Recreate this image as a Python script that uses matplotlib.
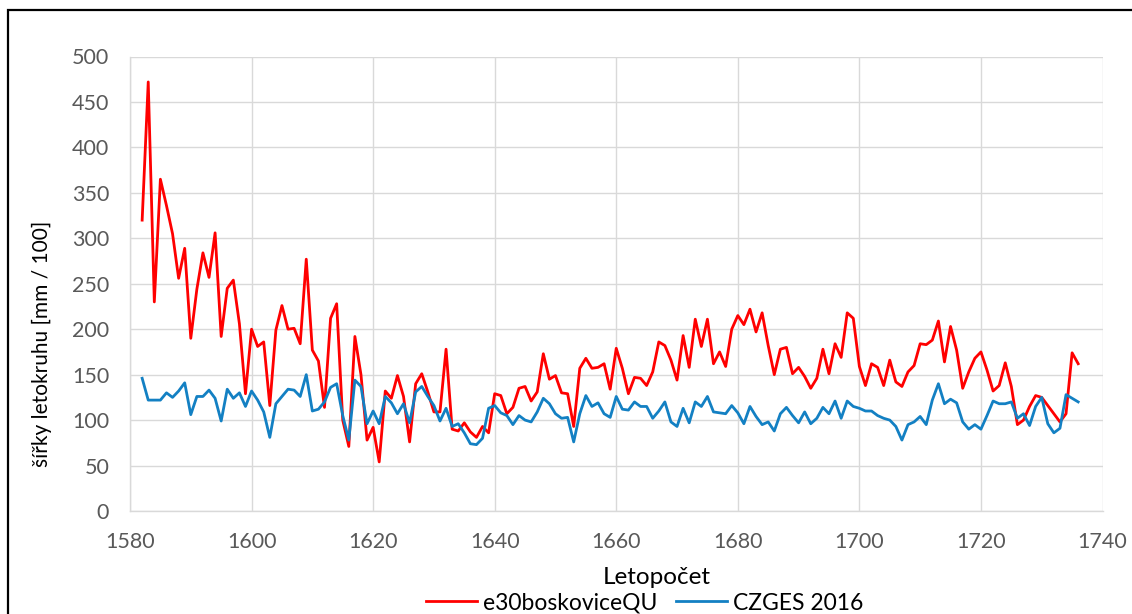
import matplotlib
matplotlib.use("Agg")
import matplotlib.pyplot as plt
from matplotlib.lines import Line2D
from matplotlib.patches import Rectangle

plt.rcParams['font.family'] = ['Lato', 'DejaVu Sans']

years = list(range(1582, 1737))

e30boskovice = [
    320, 472, 230, 365, 336, 305, 256, 289, 190, 244,   # 1582-1591
    284, 257, 306, 192, 245, 254, 206, 129, 200, 181,   # 1592-1601
    186, 116, 199, 226, 200, 201, 184, 277, 177, 165,   # 1602-1611
    114, 212, 228, 100, 71, 192, 150, 78, 92, 54,       # 1612-1621
    132, 124, 149, 126, 76, 140, 151, 131, 109, 109,    # 1622-1631
    178, 90, 88, 97, 87, 81, 93, 86, 129, 127,          # 1632-1641
    107, 114, 135, 137, 121, 131, 173, 145, 149, 130,   # 1642-1651
    129, 93, 157, 168, 157, 158, 162, 134, 179, 157,    # 1652-1661
    129, 147, 146, 138, 153, 186, 182, 166, 144, 193,   # 1662-1671
    158, 211, 181, 211, 162, 175, 159, 200, 215, 205,   # 1672-1681
    222, 197, 218, 182, 150, 178, 180, 151, 158, 148,   # 1682-1691
    135, 146, 178, 151, 184, 169, 218, 212, 159, 138,   # 1692-1701
    162, 158, 138, 166, 142, 137, 153, 160, 184, 183,   # 1702-1711
    188, 209, 164, 203, 177, 135, 153, 168, 175, 155,   # 1712-1721
    132, 138, 163, 137, 95, 100, 115, 127, 125, 116,    # 1722-1731
    107, 98, 107, 174, 162,                             # 1732-1736
]

czges2016 = [
    146, 122, 122, 122, 130, 125, 132, 141, 106, 126,   # 1582-1591
    126, 133, 124, 99, 134, 124, 130, 115, 132, 122,    # 1592-1601
    109, 81, 118, 126, 134, 133, 126, 150, 110, 112,    # 1602-1611
    120, 136, 140, 105, 78, 144, 137, 96, 110, 96,      # 1612-1621
    126, 119, 107, 118, 97, 131, 137, 126, 116, 99,     # 1622-1631
    113, 93, 96, 86, 74, 73, 80, 113, 116, 108,         # 1632-1641
    105, 95, 105, 100, 98, 109, 124, 118, 107, 102,     # 1642-1651
    103, 76, 107, 127, 115, 119, 107, 103, 126, 112,    # 1652-1661
    111, 120, 115, 115, 102, 110, 120, 98, 93, 113,     # 1662-1671
    97, 120, 115, 126, 109, 108, 107, 116, 108, 96,     # 1672-1681
    115, 104, 95, 98, 88, 107, 114, 105, 97, 109,       # 1682-1691
    96, 102, 114, 107, 121, 102, 121, 115, 113, 110,    # 1692-1701
    110, 105, 102, 100, 93, 78, 95, 98, 104, 95,        # 1702-1711
    122, 140, 118, 123, 119, 98, 90, 95, 90, 105,       # 1712-1721
    121, 118, 118, 120, 102, 107, 94, 115, 125, 96,     # 1722-1731
    86, 91, 128, 124, 120,                              # 1732-1736
]

series_names = ["e30boskoviceQU", "CZGES 2016"]
series_colors = ["#FF0000", "#1380C3"]
x_ticks = [1580, 1600, 1620, 1640, 1660, 1680, 1700, 1720, 1740]
y_ticks = [0, 50, 100, 150, 200, 250, 300, 350, 400, 450, 500]

W, H = 1132, 614
fig = plt.figure(figsize=(W / 100, H / 100), dpi=100)
fig.patch.set_facecolor("white")

# outer chart frame (runs past the right and bottom edges)
fig.patches.append(Rectangle((8 / W, -0.1), 1.2, 1 - 10 / H + 0.1,
                             transform=fig.transFigure, fill=False,
                             edgecolor="black", linewidth=1.6))

ax = fig.add_axes([130 / W, 1 - 511 / H, (1102.5 - 130) / W, (511 - 56.5) / H])
ax.plot(years, e30boskovice, color=series_colors[0], linewidth=2.0,
        solid_joinstyle="round", zorder=3)
ax.plot(years, czges2016, color=series_colors[1], linewidth=2.0,
        solid_joinstyle="round", zorder=3)

ax.set_xlim(1580, 1740)
ax.set_ylim(0, 500)
ax.set_xticks(x_ticks)
ax.set_yticks(y_ticks)
ax.grid(True, color="#D9D9D9", linewidth=1.0)
ax.set_axisbelow(True)
for side in ["top", "right"]:
    ax.spines[side].set_visible(False)
for side in ["left", "bottom"]:
    ax.spines[side].set_color("#D9D9D9")
    ax.spines[side].set_linewidth(1.0)
ax.tick_params(length=0, labelsize=15.5, labelcolor="#595959")
ax.tick_params(axis="y", pad=15)
ax.tick_params(axis="x", pad=15)

ax.set_xlabel("Letopočet", fontsize=17.5, color="black")
ax.xaxis.set_label_coords((657 - 130) / (1102.5 - 130), -(578 - 511) / (511 - 56.5))
ax.xaxis.label.set_va("center")
ax.set_ylabel("šířky letokruhu [mm / 100]", fontsize=15, color="black")
ax.yaxis.set_label_coords(-(130 - 42) / (1102.5 - 130), (511 - 344) / (511 - 56.5))
ax.yaxis.label.set_va("center")

handles = [Line2D([0], [0], color=c, linewidth=2.0) for c in series_colors]
fig.legend(handles, series_names, loc="center", bbox_to_anchor=(645 / W, 1 - 603 / H),
           ncol=2, frameon=False, fontsize=16.5, handlelength=2.2,
           columnspacing=0.8, handletextpad=0.3)

fig.savefig("out.png", dpi=100, facecolor="white")
